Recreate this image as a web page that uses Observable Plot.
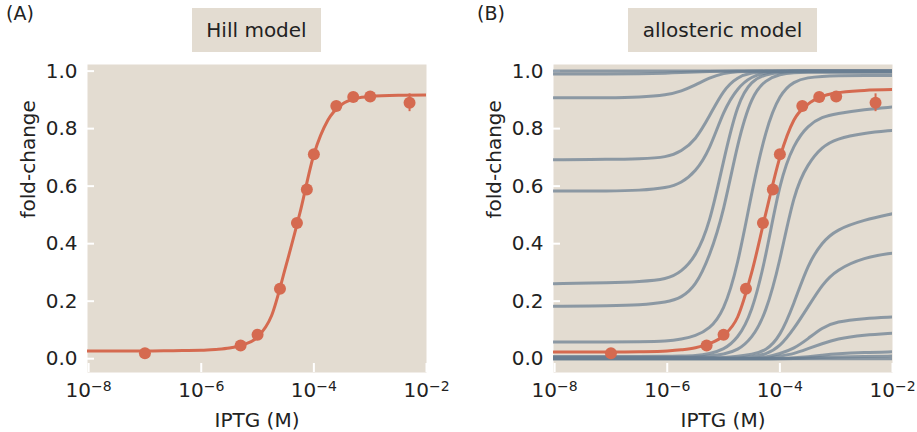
<!DOCTYPE html>
<html>
<head>
<meta charset="utf-8">
<script src="https://cdn.jsdelivr.net/npm/d3@7"></script>
<script src="https://cdn.jsdelivr.net/npm/@observablehq/plot@0.6"></script>
<style>
  body { margin: 0; background: #ffffff; font-family: "DejaVu Sans", sans-serif; }
  #wrap { position: relative; width: 917px; height: 432px; overflow: hidden; background: #fff; }
  .panel { position: absolute; top: 0; }
  .plab { position: absolute; top: 4px; font-size: 19px; line-height: 19px; color: #222; }
  .title { position: absolute; top: 8px; height: 44px; line-height: 44px; background: #E3DCD1;
           text-align: center; font-size: 20px; color: #222; }
</style>
</head>
<body>
<div id="wrap">
  <div class="plab" style="left:6px;">(A)</div>
  <div class="plab" style="left:477px;">(B)</div>
  <div class="title" style="left:192px;width:129px;">Hill model</div>
  <div class="title" style="left:628px;width:189px;">allosteric model</div>
  <div id="pa" class="panel" style="left:0px;"></div>
  <div id="pb" class="panel" style="left:466px;"></div>
</div>
<script>
// ---- measured data (IPTG concentration in M, fold-change) ----
const iptgM      = [1e-7, 5e-6, 1e-5, 2.5e-5, 5e-5, 7.5e-5, 1e-4, 2.5e-4, 5e-4, 1e-3, 5e-3];
const foldChange = [0.019, 0.046, 0.083, 0.243, 0.472, 0.588, 0.711, 0.879, 0.910, 0.912, 0.890];
const foldErr    = [0.004, 0.005, 0.006, 0.010, 0.012, 0.020, 0.012, 0.010, 0.008, 0.008, 0.031];

// ---- curve sample positions (log10 of IPTG in M) ----
const curveExp = [-8.02, -7, -6.5, -6, -5.75, -5.5, -5.25, -5, -4.75, -4.5, -4.25, -4, -3.75, -3.5, -3.25, -3, -2.5, -2];

// ---- Hill-model fit (panel A) ----
const hillFit = [0.027, 0.027, 0.028, 0.029, 0.032, 0.037, 0.049, 0.075, 0.15, 0.32, 0.505, 0.71, 0.83, 0.885, 0.905, 0.912, 0.916, 0.917];

// ---- allosteric-model fit (panel B) ----
const mwcFit = [0.023, 0.023, 0.024, 0.027, 0.031, 0.038, 0.052, 0.08, 0.145, 0.30, 0.505, 0.70, 0.83, 0.885, 0.912, 0.924, 0.933, 0.936];

// ---- allosteric-model family of predictions (panel B, grey) ----
const allostericFamily = [
  [1, 1, 1, 1, 1, 1, 1, 1, 1, 1, 1, 1, 1, 1, 1, 1, 1, 1],
  [0.99, 0.99, 0.991, 0.993, 0.995, 0.997, 0.999, 1, 1, 1, 1, 1, 1, 1, 1, 1, 1, 1],
  [0.907, 0.907, 0.909, 0.917, 0.93, 0.951, 0.977, 0.993, 0.999, 1, 1, 1, 1, 1, 1, 1, 1, 1],
  [0.692, 0.693, 0.695, 0.700, 0.721, 0.759, 0.843, 0.936, 0.98, 0.995, 0.999, 1, 1, 1, 1, 1, 1, 1],
  [0.583, 0.583, 0.585, 0.594, 0.611, 0.649, 0.724, 0.864, 0.943, 0.982, 0.995, 0.999, 1, 1, 1, 1, 1, 1],
  [0.261, 0.264, 0.268, 0.276, 0.302, 0.354, 0.464, 0.69, 0.893, 0.968, 0.989, 0.996, 0.998, 0.998, 0.998, 0.998, 0.998, 0.998],
  [0.182, 0.184, 0.186, 0.196, 0.212, 0.251, 0.354, 0.507, 0.754, 0.916, 0.97, 0.99, 0.995, 0.996, 0.996, 0.996, 0.996, 0.996],
  [0.058, 0.058, 0.059, 0.061, 0.068, 0.079, 0.103, 0.162, 0.32, 0.58, 0.80, 0.922, 0.965, 0.978, 0.982, 0.984, 0.985, 0.985],
  [0.008, 0.008, 0.008, 0.008, 0.009, 0.010, 0.017, 0.031, 0.069, 0.156, 0.35, 0.62, 0.748, 0.812, 0.841, 0.852, 0.867, 0.875],
  [0.005, 0.005, 0.005, 0.005, 0.005, 0.005, 0.009, 0.015, 0.029, 0.069, 0.156, 0.336, 0.58, 0.679, 0.737, 0.765, 0.785, 0.794],
  [0.003, 0.003, 0.003, 0.003, 0.003, 0.003, 0.003, 0.003, 0.008, 0.015, 0.027, 0.075, 0.191, 0.330, 0.405, 0.449, 0.483, 0.504],
  [0.002, 0.002, 0.002, 0.002, 0.002, 0.002, 0.002, 0.002, 0.002, 0.006, 0.015, 0.041, 0.104, 0.18, 0.258, 0.309, 0.353, 0.367],
  [0.001, 0.001, 0.001, 0.001, 0.001, 0.001, 0.001, 0.001, 0.001, 0.001, 0.005, 0.017, 0.035, 0.069, 0.108, 0.129, 0.14, 0.145],
  [0.001, 0.001, 0.001, 0.001, 0.001, 0.001, 0.001, 0.001, 0.001, 0.001, 0.001, 0.009, 0.017, 0.035, 0.052, 0.069, 0.083, 0.089],
  [0, 0, 0, 0, 0, 0, 0, 0, 0, 0, 0, 0, 0.003, 0.007, 0.012, 0.017, 0.022, 0.024],
  [0, 0, 0, 0, 0, 0, 0, 0, 0, 0, 0, 0, 0, 0.002, 0.004, 0.006, 0.008, 0.009],
  [0, 0, 0, 0, 0, 0, 0, 0, 0, 0, 0, 0, 0, 0, 0, 0, 0, 0]
];

// ---- axis ticks ----
const xTicks = [1e-8, 1e-6, 1e-4, 1e-2];
const yTicks = [0, 0.2, 0.4, 0.6, 0.8, 1.0];
const xLabel = "IPTG (M)";
const yLabel = "fold-change";

const BG = "#E3DCD1";
const ORANGE = "#D56A50";
const GREY = "#697E92";

const points = iptgM.map((x, i) => ({x, y: foldChange[i], lo: foldChange[i] - foldErr[i], hi: foldChange[i] + foldErr[i]}));
const toCurve = (vals, id) => curveExp.map((e, i) => ({x: Math.pow(10, e), y: vals[i], id}));
const expOf = d => Math.round(Math.log10(d));

function panel(fitVals, family, width, marginRight) {
  const innerW = width - 87 - marginRight;
  const innerH = 432 - 64 - 60;
  const greyData = family.flatMap((vals, k) => toCurve(vals, k));
  const svg = Plot.plot({
    width, height: 432,
    marginLeft: 87, marginRight, marginTop: 64, marginBottom: 60,
    style: {fontFamily: "DejaVu Sans, sans-serif", fontSize: "20px", color: "#222", background: "none", overflow: "visible"},
    x: {type: "log", domain: [Math.pow(10, -8.02), 1e-2]},
    y: {domain: [-0.048, 1.023]},
    marks: [
      Plot.frame({fill: BG, stroke: null}),
      Plot.axisY({ticks: yTicks, tickSize: 0, tickPadding: 10, tickFormat: d3.format(".1f"), label: null, fontSize: 20}),
      Plot.axisX({ticks: xTicks, tickSize: 0, tickPadding: 10, tickFormat: d => "10\u2212" + Math.abs(expOf(d)), label: null, fontSize: 20}),
      Plot.ruleY(yTicks, {y: d => d, insetRight: innerW - 7, stroke: "white", strokeWidth: 2}),
      Plot.ruleX(xTicks, {x: d => d, insetTop: innerH - 9, stroke: "white", strokeWidth: 2}),
      Plot.line(greyData, {x: "x", y: "y", z: "id", stroke: GREY, strokeOpacity: 0.72, strokeWidth: 3, curve: "basis", clip: true}),
      Plot.line(toCurve(fitVals, "fit"), {x: "x", y: "y", stroke: ORANGE, strokeWidth: 3, curve: "monotone-x", clip: true}),
      Plot.ruleX(points, {x: "x", y1: "lo", y2: "hi", stroke: ORANGE, strokeWidth: 2}),
      Plot.dot(points, {x: "x", y: "y", r: 6, fill: ORANGE}),
      Plot.text([yLabel], {frameAnchor: "left", dx: -59, rotate: -90, fontSize: 20, fill: "#222"}),
      Plot.text([xLabel], {frameAnchor: "bottom", dy: 48, lineAnchor: "middle", fontSize: 20, fill: "#222"})
    ]
  });
  // render the exponent of the x tick labels as a raised, smaller superscript
  d3.select(svg).selectAll('[aria-label="x-axis tick label"] text').each(function () {
    const t = d3.select(this);
    const s = t.text();
    const base = s.slice(0, 2), ex = s.slice(2);
    t.text(null);
    t.append("tspan").text(base);
    t.append("tspan").attr("dy", "-0.42em").attr("font-size", "14px").text(ex);
  });
  return svg;
}

document.getElementById("pa").appendChild(panel(hillFit, [], 458, 32));
document.getElementById("pb").appendChild(panel(mwcFit, allostericFamily, 451, 25));
</script>
</body>
</html>
